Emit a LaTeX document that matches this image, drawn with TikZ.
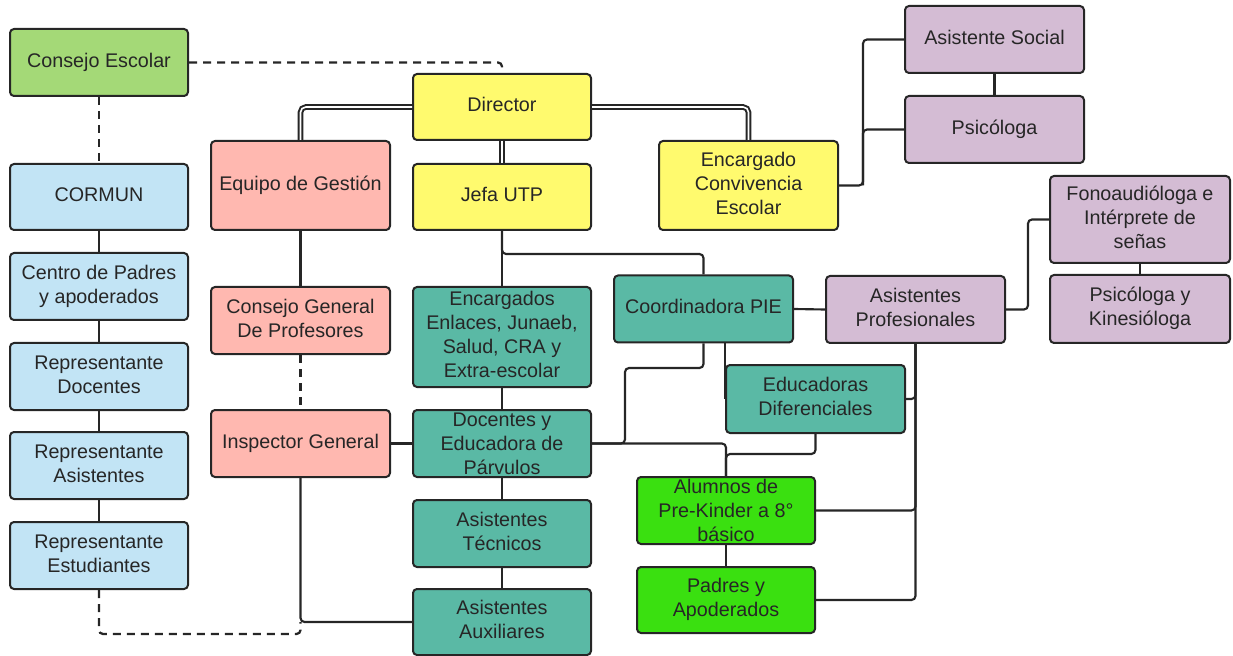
\documentclass[tikz,border=0pt]{standalone}
\usepackage{fontspec}
\setmainfont{Liberation Sans}
\usetikzlibrary{calc}
\definecolor{lc}{HTML}{262626}
\definecolor{cgreen}{HTML}{A4D977}
\definecolor{cblue}{HTML}{C2E4F5}
\definecolor{csalmon}{HTML}{FFB8B0}
\definecolor{cyellow}{HTML}{FFFA6E}
\definecolor{cteal}{HTML}{5AB9A5}
\definecolor{clilac}{HTML}{D4BCD4}
\definecolor{cbright}{HTML}{3AE010}
\tikzset{
  plainbox/.style={draw=lc, line width=1.5pt, rounded corners=3pt, inner sep=0pt, align=center,
    text=lc, font=\fontsize{14.8}{18}\selectfont},
  box/.style={plainbox, execute at end node={\rule[-3.4pt]{0pt}{3.4pt}}},
  sz/.style 2 args={minimum width=#1*0.75pt, minimum height=#2*0.75pt},
  conn/.style={draw=lc, line width=1.6pt, rounded corners=3pt},
  dconn/.style={draw=lc, line width=1.7pt, rounded corners=3pt, dash pattern=on 6pt off 4.5pt},
  dbl/.style={draw=lc, line width=1.5pt, double=white, double distance=1.2pt, rounded corners=4pt},
}
\begin{document}
\begin{tikzpicture}[x=0.75pt,y=-0.75pt]
\useasboundingbox (0,0) rectangle (1233,656);
% nodes
\node[box, sz={178}{67}, fill=cgreen] (ce) at (99,62.5) {Consejo Escolar};
\node[box, sz={178}{66}, fill=cyellow] (dir) at (502,107) {Director};
\node[box, sz={179}{89}, fill=csalmon] (eg) at (300.5,185.5) {Equipo de Gestión};
\node[box, sz={178}{66}, fill=cyellow] (jefa) at (502,197) {Jefa UTP};
\node[box, sz={179}{89}, fill=cyellow] (ecc) at (748.5,185.5) {Encargado\\Convivencia\\Escolar};
\node[box, sz={179}{67}, fill=clilac] (asoc) at (994.5,39.5) {Asistente Social};
\node[box, sz={179}{67}, fill=clilac] (psi) at (994.5,129.5) {Psicóloga};
\node[box, sz={178}{66}, fill=cblue] (cormun) at (99,197) {CORMUN};
\node[box, sz={178}{67}, fill=cblue] (cpa) at (99,286.5) {Centro de Padres\\y apoderados};
\node[box, sz={178}{67}, fill=cblue] (rd) at (99,376.5) {Representante\\Docentes};
\node[box, sz={178}{67}, fill=cblue] (ra) at (99,465.5) {Representante\\Asistentes};
\node[box, sz={178}{67}, fill=cblue] (re) at (99,555.5) {Representante\\Estudiantes};
\node[box, sz={179}{67}, fill=csalmon] (cgp) at (300.5,320.5) {Consejo General\\De Profesores};
\node[box, sz={179}{67}, fill=csalmon] (ig) at (300.5,443.5) {Inspector General};
\node[box, sz={178}{100}, fill=cteal] (enc) at (502,337) {Encargados\\Enlaces, Junaeb,\\Salud, CRA y\\Extra-escolar};
\node[plainbox, sz={178}{67}, fill=cteal] (doc) at (502,443.5) {Docentes y\\Educadora de\\Párvulos};
\node[box, sz={178}{67}, fill=cteal] (at) at (502,533.5) {Asistentes\\Técnicos};
\node[box, sz={178}{66}, fill=cteal] (aa) at (502,622) {Asistentes\\Auxiliares};
\node[box, sz={179}{67}, fill=cteal] (cpie) at (703.5,309) {Coordinadora PIE};
\node[box, sz={179}{67}, fill=clilac] (ap) at (915.5,309.5) {Asistentes\\Profesionales};
\node[box, sz={179}{68}, fill=cteal] (ed) at (815.5,399) {Educadoras\\Diferenciales};
\node[plainbox, sz={178}{67}, fill=cbright] (al) at (726,510.5) {Alumnos de\\Pre-Kinder a 8°\\básico};
\node[box, sz={178}{66}, fill=cbright] (pad) at (726,600) {Padres y\\Apoderados};
\node[box, sz={180}{87}, fill=clilac] (fono) at (1140,219.5) {Fonoaudióloga e\\Intérprete de\\señas};
\node[box, sz={180}{68}, fill=clilac] (pk) at (1140,309) {Psicóloga y\\Kinesióloga};
\coordinate (d1) at (300.5,634);
\coordinate (k1) at (625,368);
% connectors
\draw[dconn] (ce.east) -| (dir.north);
\draw[dconn] (ce.south) -- (cormun.north);
\draw[dbl] (dir.west) -| (eg.north);
\draw[dbl] (dir.south) -- (jefa.north);
\draw[dbl] (dir.east) -| (ecc.north);
\draw[conn] (ecc.east) -- ++(24,0) coordinate (b1) |- (asoc.west);
\draw[conn] (b1) |- (psi.west);
\draw[conn] (asoc.south) -- (psi.north);
\draw[conn] (cormun.south) -- (cpa.north);
\draw[conn] (cpa.south) -- (rd.north);
\draw[conn] (rd.south) -- (ra.north);
\draw[conn] (ra.south) -- (re.north);
\draw[conn] (eg.south) -- (cgp.north);
\draw[dconn] (cgp.south) -- (ig.north);
\draw[conn] (ig.south) |- (aa.west);
\draw[dconn] (re.south) |- (d1) -- (ig.south |- aa.west);
\draw[conn] (ig.east) -- (doc.west);
\draw[conn] (jefa.south) -- (enc.north);
\draw[conn] (jefa.south) -- ++(0,23) -| (cpie.north);
\draw[conn] (enc.south) -- (doc.north);
\draw[conn] (doc.south) -- (at.north);
\draw[conn] (at.south) -- (aa.north);
\draw[conn] (cpie.south) |- (k1) |- (doc.east);
\draw[conn] (doc.east) -| (al.north);
\draw[conn] (ed.south) -- ++(0,20) -| (al.north);
\draw[conn] (ed.west |- cpie.south) -- (ed.west);
\draw[conn] (cpie.east) -- (ap.west);
\draw[conn] (ap.south) |- (pad.east);
\draw[conn] (ap.south) |- (al.east);
\draw[conn] (ap.south) |- (ed.east);
\draw[conn] (ap.east) -- ++(22,0) |- (fono.west);
\draw[conn] (fono.south) -- (pk.north);
\draw[conn] (al.south) -- (pad.north);
\end{tikzpicture}
\end{document}
